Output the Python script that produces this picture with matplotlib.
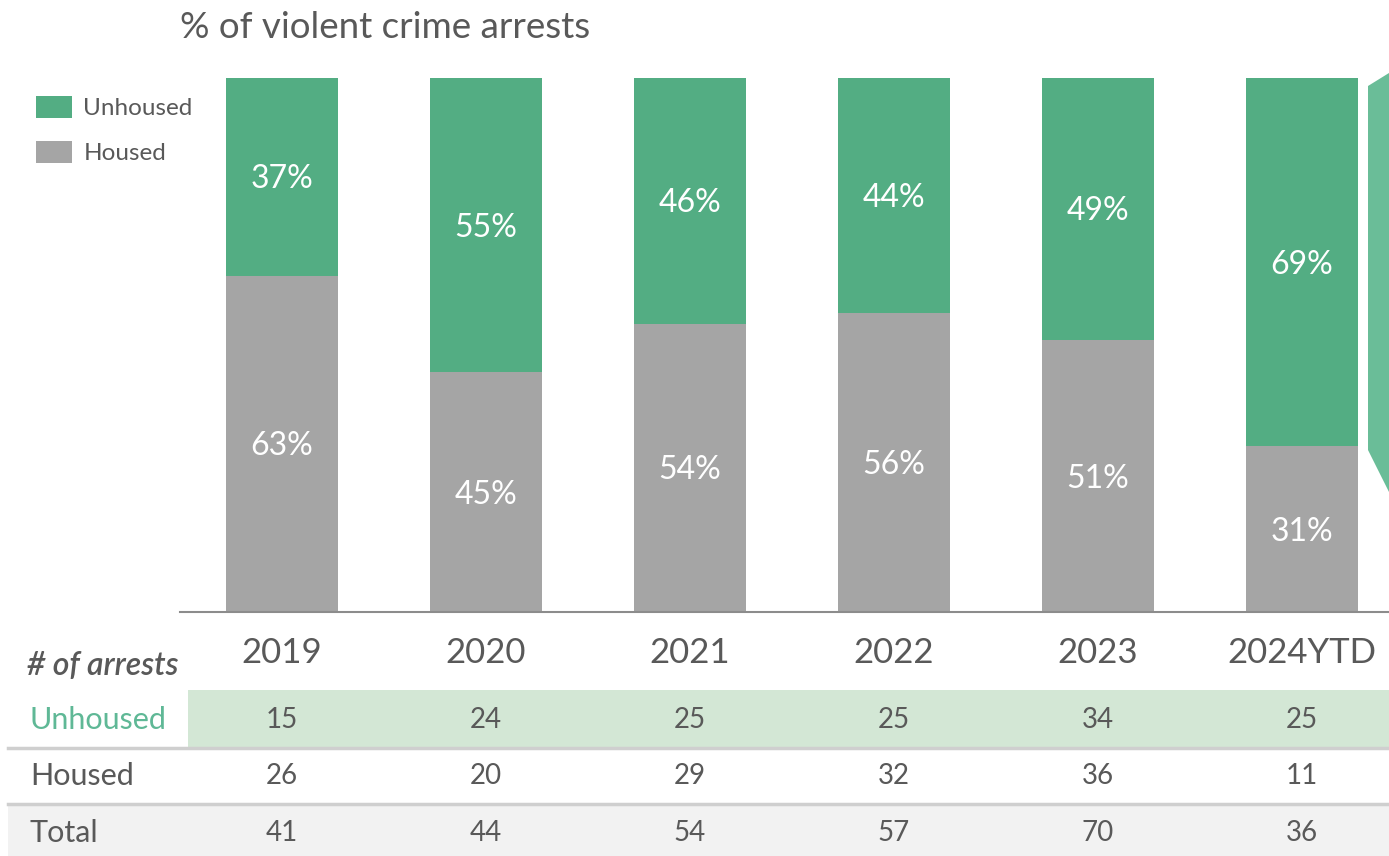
import matplotlib
matplotlib.use('Agg')
import matplotlib.pyplot as plt
import matplotlib.transforms as mtransforms
from matplotlib.patches import Polygon, Rectangle
from matplotlib.lines import Line2D

years = ['2019', '2020', '2021', '2022', '2023', '2024YTD']
pct_unhoused = [37, 55, 46, 44, 49, 69]
pct_housed = [63, 45, 54, 56, 51, 31]

row_labels = ['Unhoused', 'Housed', 'Total']
n_unhoused = [15, 24, 25, 25, 34, 25]
n_housed = [26, 20, 29, 32, 36, 11]
n_total = [41, 44, 54, 57, 70, 36]

GREEN = '#53ad83'
GREY = '#a5a5a5'
TEXT = '#595959'

plt.rcParams['font.family'] = ['Lato', 'DejaVu Sans']

W, H = 1389, 856
fig = plt.figure(figsize=(W / 100, H / 100), dpi=100)


def fx(px):
    return px / W


def fy(py):
    return 1 - py / H


# stacked bars
ax = fig.add_axes([fx(180), fy(612), fx(1389) - fx(180), (612 - 78) / H])
ax.patch.set_visible(False)
x = list(range(len(years)))
b_hou = ax.bar(x, pct_housed, width=0.55, color=GREY)
b_unh = ax.bar(x, pct_unhoused, width=0.55, bottom=pct_housed, color=GREEN)
ax.set_xlim(-0.5, 5.426)
ax.set_ylim(0, 100)

for i in x:
    ax.text(i, pct_housed[i] / 2 - 0.5, f'{pct_housed[i]}%', ha='center', va='center',
            color='white', fontsize=23)
    ax.text(i, pct_housed[i] + pct_unhoused[i] / 2 - 0.5, f'{pct_unhoused[i]}%',
            ha='center', va='center', color='white', fontsize=23)

for s in ['top', 'right', 'left']:
    ax.spines[s].set_visible(False)
ax.spines['bottom'].set_color('#8c8c8c')
ax.spines['bottom'].set_linewidth(1.5)
ax.set_yticks([])
ax.set_xticks(x)
ax.set_xticklabels(years, fontsize=25, color=TEXT)
ax.tick_params(axis='x', length=0, pad=18)

fig.text(fx(180), fy(27), '% of violent crime arrests', fontsize=26.5,
         color=TEXT, ha='left', va='center')

fig.legend([b_unh, b_hou], ['Unhoused', 'Housed'], loc='upper left',
           bbox_to_anchor=(fx(14), fy(74)), frameon=False, fontsize=17.5,
           handlelength=1.5, handleheight=1.0, handletextpad=0.45,
           labelspacing=0.9, labelcolor=TEXT)

# partial shape on the right edge
fig.patches.append(Polygon([(fx(1368), fy(86)), (fx(1389), fy(73)),
                            (fx(1389), fy(492)), (fx(1368), fy(450))],
                           closed=True, transform=fig.transFigure,
                           facecolor='#6abd98', edgecolor='none'))

# table of counts
fig.patches.append(Rectangle((fx(188), fy(748)), fx(1389) - fx(188), 58 / H,
                             transform=fig.transFigure, facecolor='#d3e7d5',
                             edgecolor='none', zorder=-2))
fig.patches.append(Rectangle((fx(8), fy(856)), fx(1389) - fx(8), 50 / H,
                             transform=fig.transFigure, facecolor='#f2f2f2',
                             edgecolor='none', zorder=-2))
for yl in [748, 804]:
    fig.lines.append(Line2D([fx(8), 1], [fy(yl), fy(yl)], transform=fig.transFigure,
                            color='#cfcfcf', lw=2.5, zorder=-1))

fig.text(fx(27), fy(666), '# of arrests', fontsize=23, style='italic',
         fontweight='semibold', color=TEXT, ha='left', va='center')

trans = mtransforms.blended_transform_factory(ax.transData, fig.transFigure)
rows = [n_unhoused, n_housed, n_total]
row_y = [720, 776, 833]
row_colors = ['#5fb896', TEXT, TEXT]
for label, vals, yy, c in zip(row_labels, rows, row_y, row_colors):
    fig.text(fx(30), fy(yy), label, fontsize=22, color=c, ha='left', va='center')
    for i, v in zip(x, vals):
        ax.text(i, fy(yy), str(v), transform=trans, fontsize=20, color=TEXT,
                ha='center', va='center')

fig.savefig('out.png', dpi=100)
